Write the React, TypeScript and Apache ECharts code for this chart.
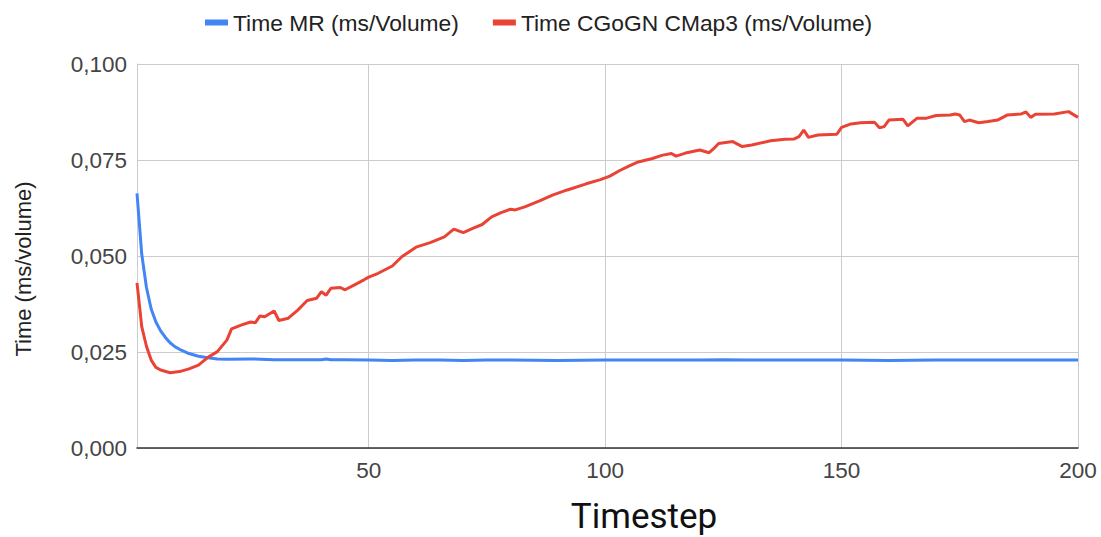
import React, { useEffect, useRef } from "react";
import * as echarts from "echarts";

const seriesNames = ["Time MR (ms/Volume)", "Time CGoGN CMap3 (ms/Volume)"];
const xTickValues = [50, 100, 150, 200];
const yTickValues = [0, 0.025, 0.05, 0.075, 0.1];

const mrSteps = [
  1, 2, 3, 4, 5, 6, 7, 8, 9, 10,
  12, 14, 16, 18, 20, 25, 30, 35, 40, 41,
  42, 45, 50, 55, 60, 65, 70, 75, 80, 90,
  100, 110, 120, 125, 130, 140, 150, 160, 170, 180,
  190, 200,
];
const mrValues = [
  0.0663, 0.0505, 0.0418, 0.0362, 0.0328, 0.0305, 0.0288, 0.0274, 0.0264, 0.0257,
  0.0246, 0.0239, 0.0235, 0.0232, 0.0231, 0.0232, 0.023, 0.023, 0.023, 0.0232,
  0.023, 0.023, 0.0229, 0.0228, 0.0229, 0.0229, 0.0228, 0.0229, 0.0229, 0.0228,
  0.0229, 0.0229, 0.0229, 0.023, 0.0229, 0.0229, 0.0229, 0.0228, 0.0229, 0.0229,
  0.0229, 0.0229,
];

const cgognSteps = [
  1, 2, 3, 4, 5, 6, 8, 10, 12, 14,
  16, 18, 20, 21, 23, 25, 26, 27, 28, 30,
  31, 33, 35, 37, 39, 40, 41, 42, 44, 45,
  47, 49, 50, 52, 55, 57, 60, 63, 66, 68,
  70, 72, 74, 76, 78, 80, 81, 83, 86, 89,
  92, 96, 99, 101, 103, 105, 107, 110, 112, 114,
  115, 117, 120, 122, 123, 124, 127, 129, 131, 135,
  138, 140, 141, 142, 143, 145, 149, 150, 152, 154,
  157, 158, 159, 160, 163, 164, 166, 168, 170, 173,
  174, 175, 176, 177, 179, 181, 183, 185, 188, 189,
  190, 191, 195, 198, 200,
];
const cgognValues = [
  0.043, 0.0316, 0.0265, 0.0229, 0.021, 0.0203, 0.0196, 0.0199, 0.0206, 0.0216,
  0.0236, 0.0251, 0.0281, 0.031, 0.032, 0.0328, 0.0326, 0.0344, 0.0342, 0.0357,
  0.0332, 0.0338, 0.0359, 0.0384, 0.039, 0.0407, 0.0398, 0.0416, 0.0418, 0.0412,
  0.0425, 0.0438, 0.0445, 0.0455, 0.0474, 0.0498, 0.0523, 0.0535, 0.055, 0.057,
  0.0561, 0.0572, 0.0582, 0.0602, 0.0613, 0.0622, 0.062, 0.0628, 0.0643, 0.0659,
  0.0672, 0.0688, 0.0699, 0.0708, 0.0722, 0.0734, 0.0745, 0.0754, 0.0762, 0.0767,
  0.076, 0.0768, 0.0776, 0.0769, 0.078, 0.0793, 0.0798, 0.0785, 0.0789, 0.08,
  0.0804, 0.0805, 0.0811, 0.0828, 0.0809, 0.0815, 0.0817, 0.0835, 0.0844, 0.0847,
  0.0848, 0.0834, 0.0837, 0.0854, 0.0856, 0.0839, 0.0859, 0.0859, 0.0866, 0.0867,
  0.087, 0.0867, 0.085, 0.0854, 0.0847, 0.085, 0.0854, 0.0867, 0.087, 0.0875,
  0.0861, 0.0869, 0.087, 0.0876, 0.0861,
];

const BLUE = "#4285f4";
const RED = "#ea4335";
const FONT = "'Liberation Sans', Arial, sans-serif";

export default function App() {
  const ref = useRef<HTMLDivElement>(null);

  useEffect(() => {
    document.body.style.margin = "0";
    if (!ref.current) return;
    const chart = echarts.init(ref.current, null, { renderer: "svg" });
    const zip = (xs: number[], ys: number[]) => xs.map((x, i) => [x, ys[i]]);

    chart.setOption({
      animation: false,
      backgroundColor: "#ffffff",
      textStyle: { fontFamily: FONT },
      legend: {
        top: 6,
        left: 200,
        icon: "rect",
        itemWidth: 23,
        itemHeight: 6,
        itemGap: 34,
        itemTextGap: 19,
        textStyle: { fontSize: 22.8, color: "#222", fontFamily: FONT },
        data: seriesNames,
      },
      grid: { left: 137, right: 23, top: 64, bottom: 89, containLabel: false },
      xAxis: {
        type: "value",
        min: 1,
        max: 200,
        axisLine: { show: true, lineStyle: { color: "#333", width: 1.5 } },
        axisTick: { show: false, customValues: xTickValues },
        axisLabel: {
          customValues: xTickValues,
          fontSize: 22.5,
          color: "#444",
          margin: 11,
          fontFamily: FONT,
        },
        splitLine: { show: true, lineStyle: { color: "#cccccc", width: 1 } },
      },
      yAxis: {
        type: "value",
        min: 0,
        max: 0.1,
        interval: 0.025,
        axisLine: { show: true, lineStyle: { color: "#cccccc", width: 1 } },
        axisTick: { show: false },
        axisLabel: {
          fontSize: 22.5,
          color: "#444",
          margin: 10,
          fontFamily: FONT,
          formatter: (v: number) => {
            const t = yTickValues.find((y) => Math.abs(y - v) < 1e-9);
            return (t ?? v).toFixed(3).replace(".", ",");
          },
        },
        splitLine: { show: true, lineStyle: { color: "#cccccc", width: 1 } },
      },
      graphic: [
        {
          type: "text",
          x: 23,
          y: 269,
          rotation: Math.PI / 2,
          style: {
            text: "Time (ms/volume)",
            fontSize: 22,
            fill: "#222",
            fontFamily: FONT,
            align: "center",
            verticalAlign: "middle",
          },
        },
        {
          type: "text",
          x: 644,
          y: 516,
          style: {
            text: "Timestep",
            fontSize: 35,
            fill: "#111",
            fontFamily: "Roboto, sans-serif",
            align: "center",
            verticalAlign: "middle",
          },
        },
      ],
      series: [
        {
          name: seriesNames[0],
          type: "line",
          data: zip(mrSteps, mrValues),
          showSymbol: false,
          symbol: "none",
          smooth: false,
          lineStyle: { color: BLUE, width: 3 },
          itemStyle: { color: BLUE },
        },
        {
          name: seriesNames[1],
          type: "line",
          data: zip(cgognSteps, cgognValues),
          showSymbol: false,
          symbol: "none",
          smooth: false,
          lineStyle: { color: RED, width: 3 },
          itemStyle: { color: RED },
        },
      ],
    });

    return () => {
      chart.dispose();
    };
  }, []);

  return <div ref={ref} style={{ width: 1101, height: 537 }} />;
}
